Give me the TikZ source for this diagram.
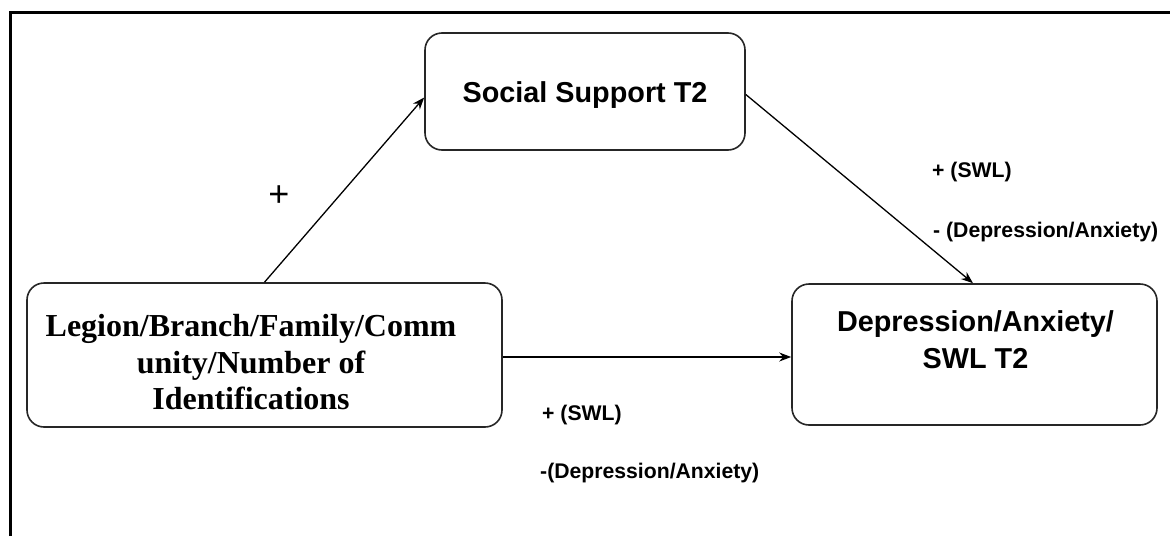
\documentclass[tikz,border=0pt]{standalone}
\usepackage{fontspec}
\setmainfont{Liberation Serif}
\newfontfamily\arialfont{Liberation Sans}
\usetikzlibrary{arrows.meta}
\begin{document}
\begin{tikzpicture}[x=1pt,y=-1pt,
  box/.style={draw=black!85, line width=1.6pt, rounded corners=17pt, inner sep=0pt},
  link/.style={draw=black, line width=1.3pt, -{Stealth[length=12pt,width=9pt]}},
  sanstitle/.style={font=\arialfont\bfseries\fontsize{28.8}{37}\selectfont, align=center, inner sep=0pt},
  seriftitle/.style={font=\bfseries\fontsize{32}{36.5}\selectfont, align=center, inner sep=0pt},
  effect/.style={font=\arialfont\bfseries\fontsize{21.2}{25}\selectfont, anchor=base west, inner sep=0pt}]
\useasboundingbox (0,0) rectangle (1170,536);

% frame (top and left edges)
\draw[line width=2.5pt] (10.5,536) -- (10.5,12.5) -- (1170,12.5);

% boxes
\node[box, minimum width=320pt, minimum height=117pt] (ss) at (585,91.5) {};
\node[box, minimum width=475pt, minimum height=144pt] (lb) at (264.5,355) {};
\node[box, minimum width=365pt, minimum height=141pt] (rb) at (974.5,354.5) {};

% box texts
\node[sanstitle, anchor=base] (sst) at (585,102) {Social Support T2};
\node[seriftitle] (lbt) at (251,362.5) {Legion/Branch/Family/Comm\\unity/Number of\\Identifications};
\node[sanstitle] (rbt) at (975.5,339.5) {Depression/Anxiety/\\SWL T2};

% paths
\draw[link] (lb.north) -- ([yshift=-6pt]ss.west);
\draw[link] ([yshift=-3pt]ss.east) -- ([xshift=-1.5pt]rb.north);
\draw[link] ([yshift=-2pt]lb.east) -- ([yshift=-2.5pt]rb.west);

% path labels
\node[font=\arialfont\fontsize{36}{40}\selectfont, inner sep=0pt] (pa) at (279,196) {+};
\node[effect] (pb1) at (932,177.7) {+ (SWL)};
\node[effect] (pb2) at (933,237.5) {- (Depression/Anxiety)};
\node[effect] (pc1) at (542,420) {+ (SWL)};
\node[effect] (pc2) at (540,478) {-(Depression/Anxiety)};
\end{tikzpicture}
\end{document}
